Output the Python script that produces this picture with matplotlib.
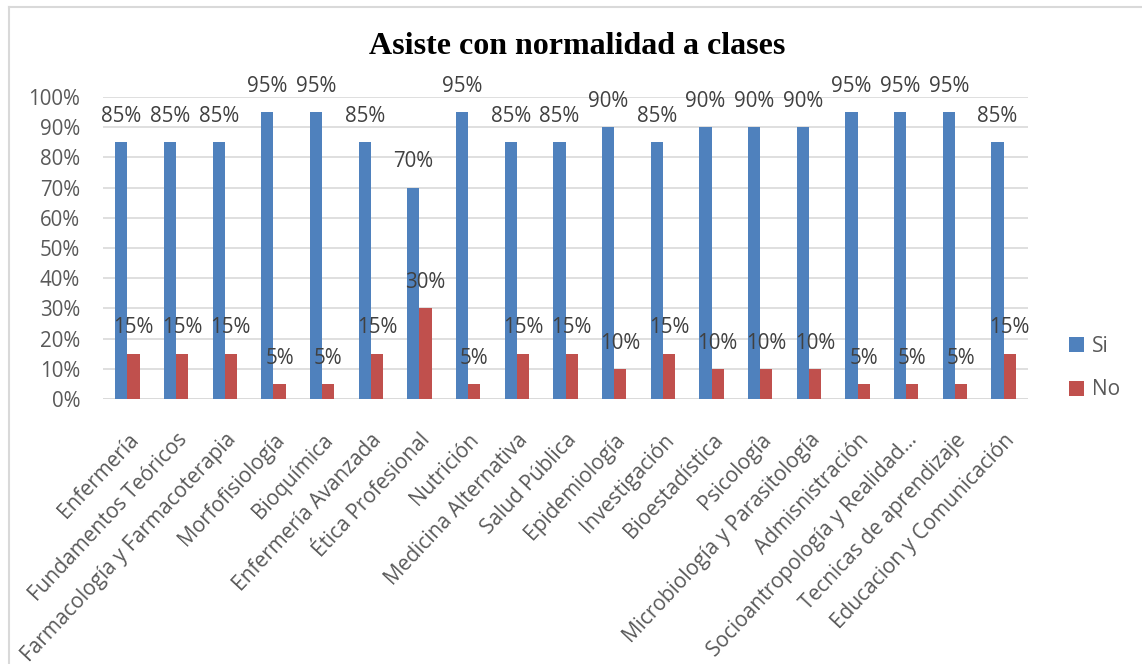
import matplotlib
matplotlib.use("Agg")
import matplotlib.pyplot as plt
from matplotlib.lines import Line2D
from matplotlib.transforms import ScaledTranslation
import numpy as np

categories = ["Enfermería", "Fundamentos Teóricos", "Farmacología y Farmacoterapia",
              "Morfofisiología", "Bioquímica", "Enfermería Avanzada", "Ética Profesional",
              "Nutrición", "Medicina Alternativa", "Salud Pública", "Epidemiología",
              "Investigación", "Bioestadística", "Psicología", "Microbiología y Parasitología",
              "Admisnistración", "Socioantropología y Realidad...", "Tecnicas de aprendizaje",
              "Educacion y Comunicación"]
si_values = [85, 85, 85, 95, 95, 85, 70, 95, 85, 85, 90, 85, 90, 90, 90, 95, 95, 95, 85]
no_values = [15, 15, 15, 5, 5, 15, 30, 5, 15, 15, 10, 15, 10, 10, 10, 5, 5, 5, 15]
series_names = ["Si", "No"]
yticks = [0, 10, 20, 30, 40, 50, 60, 70, 80, 90, 100]
title = "Asiste con normalidad a clases"

W, H = 1142, 664
fig = plt.figure(figsize=(W / 100, H / 100), dpi=100)
fig.patch.set_facecolor("white")

font = ["Open Sans", "DejaVu Sans"]
txt_color = "#595959"
c_si = "#4F81BD"
c_no = "#C0504D"

ax = fig.add_axes([103 / W, 1 - 399 / H, (1028 - 103) / W, (399 - 97) / H])
x = np.arange(len(categories))
bw = 0.25
b1 = ax.bar(x - bw / 2, si_values, bw, color=c_si, label=series_names[0], zorder=3)
b2 = ax.bar(x + bw / 2, no_values, bw, color=c_no, label=series_names[1], zorder=3)

for bars, vals in ((b1, si_values), (b2, no_values)):
    for rect, v in zip(bars, vals):
        ax.annotate(f"{v}%", (rect.get_x() + rect.get_width() / 2, rect.get_height()),
                    xytext=(0, 11), textcoords="offset points", ha="center", va="bottom",
                    fontsize=14.8, color="#404040", family=font, zorder=4,
                    annotation_clip=False)

ax.set_xlim(-0.5, len(categories) - 0.5)
ax.set_ylim(0, 100)
ax.set_yticks(yticks)
ax.set_yticklabels([f"{t}%" for t in yticks], family=font, fontsize=14.8, color=txt_color)
ax.yaxis.grid(True, color="#d9d9d9", linewidth=1.2, zorder=0)
ax.set_axisbelow(True)
ax.set_xticks(x)
ax.set_xticklabels(categories, rotation=47, ha="right", rotation_mode="anchor",
                   family=font, fontsize=15, color=txt_color)
shift = ScaledTranslation(-6 / 100, 0, fig.dpi_scale_trans)
for lab in ax.get_xticklabels():
    lab.set_transform(lab.get_transform() + shift)
ax.tick_params(axis="both", length=0)
ax.tick_params(axis="y", pad=16.5)
ax.tick_params(axis="x", pad=22)
for s in ax.spines.values():
    s.set_visible(False)
ax.axhline(0, color="#d9d9d9", linewidth=1.2, zorder=1)

fig.text(577 / W, 1 - 47 / H, title, ha="center", va="center",
         family=["Liberation Serif"], fontweight="bold", fontsize=23, color="black")

leg = fig.legend(handles=[b1, b2], loc="center left",
                 bbox_to_anchor=(1069 / W, 1 - 368 / H), frameon=False,
                 handlelength=0.72, handleheight=0.72, handletextpad=0.4,
                 labelspacing=1.1, borderpad=0, borderaxespad=0,
                 prop={"family": font, "size": 15})
for t in leg.get_texts():
    t.set_color(txt_color)

fig.add_artist(Line2D([9 / W, 1], [1 - 7 / H, 1 - 7 / H], transform=fig.transFigure,
                      color="#d9d9d9", linewidth=1.5))
fig.add_artist(Line2D([9 / W, 9 / W], [0, 1 - 7 / H], transform=fig.transFigure,
                      color="#d9d9d9", linewidth=1.5))

fig.savefig("out.png", dpi=100, facecolor="white")
